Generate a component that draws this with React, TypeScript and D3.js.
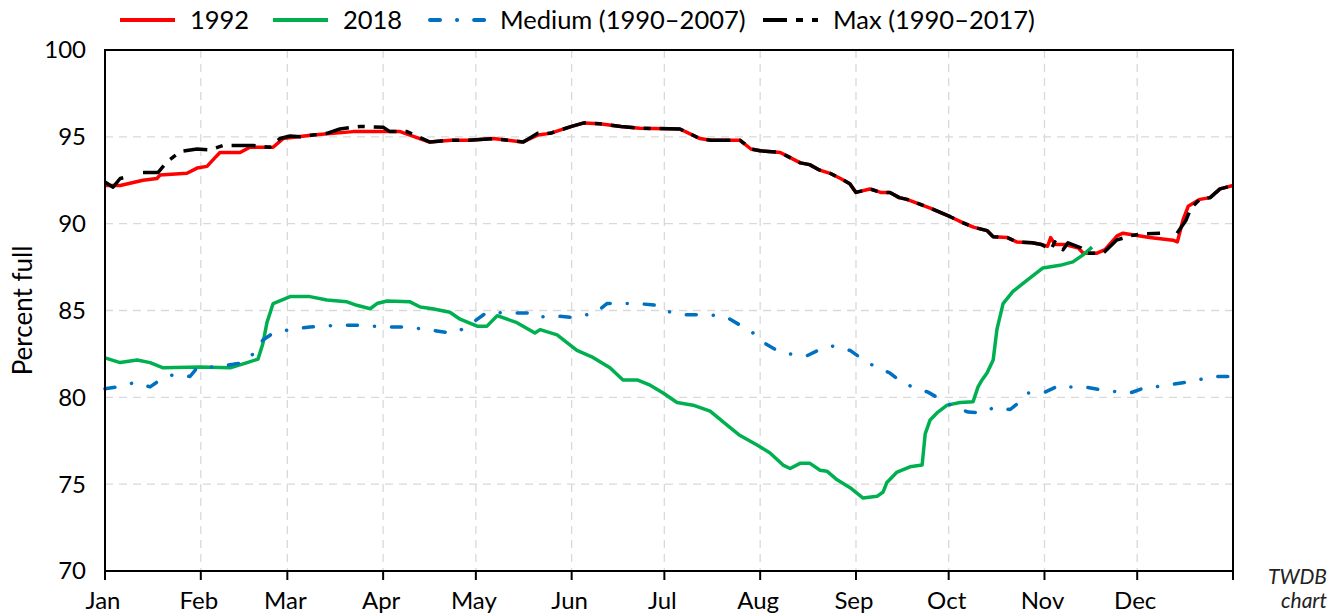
import React from 'react';
import * as d3 from 'd3';

// day of year -> percent full
const series1992: [number, number][] = [
  [0, 92.2], [4.9, 92.2], [12.3, 92.5], [16.8, 92.6], [17.8, 92.8], [26.5, 92.9], [29.8, 93.2],
  [33, 93.3], [35.6, 93.8], [37.2, 94.1], [43.7, 94.1], [46.9, 94.4], [54.4, 94.4], [57.6, 94.9],
  [67.3, 95.1], [80.3, 95.3], [95.5, 95.3], [105, 94.7], [112, 94.8], [118, 94.8], [125.6, 94.9],
  [135, 94.7], [140, 95.1], [144, 95.2], [151, 95.6], [155, 95.8], [160, 95.75], [167, 95.6],
  [173, 95.5], [186, 95.45], [189, 95.2], [192.5, 94.9], [196, 94.8], [205.5, 94.8], [209, 94.3],
  [212, 94.2], [218.5, 94.1], [221.7, 93.8], [225, 93.5], [228, 93.4], [231, 93.1], [234.6, 92.9],
  [238, 92.6], [241, 92.3], [243, 91.8], [247.5, 92.0], [251, 91.8], [254, 91.8], [257, 91.5],
  [259.5, 91.4], [267, 90.9], [273.5, 90.4], [277.7, 90.05], [281, 89.8], [285.4, 89.6],
  [287.4, 89.25], [292, 89.2], [295, 88.95], [300, 88.9], [303, 88.8], [305, 88.7], [306, 89.2],
  [307.4, 88.8], [310.7, 88.8], [315, 88.6], [316.5, 88.3], [321, 88.3], [323.6, 88.5],
  [327.5, 89.3], [329.4, 89.45], [338, 89.2], [345.6, 89.05], [347, 88.95], [348.8, 90.2],
  [350.5, 91.0], [354.3, 91.4], [357.6, 91.5], [360.8, 92.0], [365, 92.2],
];

const series2018: [number, number][] = [
  [0, 82.27], [4.9, 82.0], [10.4, 82.15], [14.6, 82.0], [18.8, 81.7], [30.7, 81.75], [40.5, 81.7],
  [46, 82.0], [49.5, 82.2], [51.1, 83.1], [52.4, 84.3], [54.4, 85.4], [59.9, 85.8], [66.3, 85.8],
  [71.8, 85.6], [78.3, 85.5], [81.5, 85.3], [85.8, 85.1], [88, 85.4], [91.3, 85.55], [98.7, 85.5],
  [102, 85.2], [106, 85.1], [111.6, 84.9], [114.9, 84.5], [120.4, 84.1], [123.6, 84.1],
  [126.9, 84.7], [133.3, 84.3], [139.1, 83.7], [140.8, 83.9], [146.3, 83.6], [152.7, 82.7],
  [157.9, 82.3], [163.4, 81.7], [167.6, 81.0], [172.2, 81.0], [176.4, 80.7], [180.6, 80.25],
  [185.1, 79.7], [190.3, 79.55], [195.8, 79.2], [201.3, 78.4], [205.5, 77.8], [211, 77.25],
  [215.2, 76.8], [219.4, 76.1], [221.7, 75.9], [224.9, 76.2], [228.1, 76.2], [231.4, 75.8],
  [233.6, 75.75], [236.9, 75.25], [241.1, 74.8], [245.3, 74.2], [249.8, 74.3], [251.8, 74.55],
  [253, 75.1], [256.3, 75.7], [260.5, 76.0], [264.4, 76.1], [265.4, 77.9], [267, 78.7],
  [269.2, 79.1], [272.5, 79.55], [276.7, 79.7], [280.9, 79.75], [282.5, 80.6], [283.8, 81.0],
  [285.4, 81.4], [287.4, 82.15], [288.6, 83.9], [290.6, 85.4], [293.8, 86.1], [298.4, 86.75],
  [303.5, 87.45], [309, 87.6], [313.2, 87.8], [316.5, 88.2], [319.4, 88.65],
];

const seriesMedium: [number, number][] = [
  [0, 80.5], [3.9, 80.6], [9.7, 80.85], [14.6, 80.6], [17.8, 81.0], [22, 81.3], [27.5, 81.2],
  [29.8, 81.7], [35, 81.75], [41.4, 81.9], [44.7, 82.0], [47.9, 82.5], [51.1, 83.3], [54.4, 83.7],
  [59.9, 83.9], [66.3, 84.05], [75.1, 84.15], [83.5, 84.15], [90, 84.05], [97.7, 84.05],
  [104.5, 83.9], [111.6, 83.7], [113.9, 83.75], [118.1, 84.2], [123.6, 84.9], [130.4, 84.85],
  [137.5, 84.85], [139.8, 84.6], [145, 84.7], [151.4, 84.6], [158.6, 84.85], [162.4, 85.4],
  [172.5, 85.4], [178.6, 85.3], [181.9, 84.95], [187, 84.75], [195.8, 84.75], [201.3, 84.6],
  [206.5, 84.05], [209.4, 83.75], [213.6, 83.1], [218.4, 82.6], [221.7, 82.5], [227.2, 82.4],
  [232.4, 82.85], [235.6, 82.95], [241.1, 82.7], [246.6, 82.0], [254, 81.4], [258.2, 80.8],
  [261.5, 80.6], [266.3, 80.3], [271.2, 79.8], [274.1, 79.5], [279.3, 79.15], [284.1, 79.1],
  [287.4, 79.4], [292.9, 79.3], [296.7, 79.85], [298.7, 80.25], [304.2, 80.3], [309, 80.7],
  [311.3, 80.6], [317.1, 80.6], [323, 80.4], [326.2, 80.35], [331.7, 80.25], [337.2, 80.6],
  [339.8, 80.6], [345.3, 80.75], [351.1, 80.9], [353.7, 81.0], [358.5, 81.2], [365, 81.2],
];

const seriesMax: [number, number | null][] = [
  [0, 92.4], [2.6, 92.1], [4.9, 92.6], [8.1, 92.75], [10, null], [12.3, 92.95], [17.2, 92.95],
  [20, 93.55], [24.3, 94.15], [29.8, 94.3], [34, 94.25], [38.2, 94.5], [47.9, 94.5], [53.4, 94.4],
  [56.6, 94.9], [59.9, 95.05], [63.1, 95.0], [67.3, 95.1], [71.8, 95.2], [76, 95.45], [82.5, 95.6],
  [90, 95.55], [92.2, 95.3], [97.7, 95.3], [105.2, 94.7], [110.7, 94.8], [117.1, 94.8],
  [125.6, 94.9], [135.4, 94.7], [140, 95.2], [144, 95.2], [151, 95.6], [155, 95.8], [160, 95.75],
  [167, 95.6], [173, 95.5], [186, 95.45], [189, 95.2], [192.5, 94.9], [196, 94.8], [205.5, 94.8],
  [209, 94.3], [212, 94.2], [218.5, 94.1], [221.7, 93.8], [225, 93.5], [228, 93.4], [231, 93.1],
  [234.6, 92.9], [238, 92.6], [241, 92.3], [243, 91.8], [247.5, 92.0], [251, 91.8], [254, 91.8],
  [257, 91.5], [259.5, 91.4], [267, 90.9], [273.5, 90.4], [277.7, 90.05], [281, 89.8],
  [285.4, 89.6], [287.4, 89.25], [292, 89.2], [295, 88.95], [300, 88.9], [303, 88.8], [306, 88.5],
  [307.4, 88.95], [310, 88.5], [311.6, 88.9], [315.8, 88.6], [317.4, 88.3], [323, 88.3],
  [327.3, 89.05], [331.7, 89.3], [334.9, 89.4], [341.4, 89.45], [343, null], [346.9, 89.45],
  [349.8, 90.2], [351.4, 90.9], [354.3, 91.4], [357.6, 91.5], [360.8, 92.0], [365, 92.2],
];

const monthStarts = [0, 31, 59, 90, 120, 151, 181, 212, 243, 273, 304, 334, 365];
const monthLabels = ['Jan', 'Feb', 'Mar', 'Apr', 'May', 'Jun', 'Jul', 'Aug', 'Sep', 'Oct', 'Nov', 'Dec'];
const yTicks = [70, 75, 80, 85, 90, 95, 100];

const legendItems = [
  { label: '1992', color: '#ff0000', dash: null, cap: 'butt', x: 120 },
  { label: '2018', color: '#00b050', dash: null, cap: 'butt', x: 273 },
  { label: 'Medium (1990–2007)', color: '#0070c0', dash: '10 17 0.1 17', cap: 'round', x: 430 },
  { label: 'Max (1990–2017)', color: '#000000', dash: '24 9 7 9', cap: 'butt', x: 763 },
];

const FONT = 'Lato, "Open Sans", sans-serif';

export default function App() {
  const W = 1343, H = 613;
  const left = 105, right = 1233, top = 50, bottom = 571;

  const x = d3.scaleLinear().domain([0, 365]).range([left, right]);
  const y = d3.scaleLinear().domain([70, 100]).range([bottom, top]);

  const line = d3.line<[number, number | null]>()
    .defined(d => d[1] !== null)
    .x(d => x(d[0]))
    .y(d => y(d[1] as number));

  return (
    <svg width={W} height={H} style={{ position: 'absolute', left: 0, top: 0 }} fontFamily={FONT}>
      <rect width={W} height={H} fill="#fff" />

      {/* grid */}
      {yTicks.filter(t => t > 70 && t < 100).map(t => (
        <line key={'gy' + t} x1={left} x2={right} y1={y(t)} y2={y(t)} stroke="#d9d9d9" strokeWidth={1.3} strokeDasharray="8 6" />
      ))}
      {monthStarts.slice(1, -1).map(m => (
        <line key={'gx' + m} x1={x(m)} x2={x(m)} y1={top} y2={bottom} stroke="#d9d9d9" strokeWidth={1.3} strokeDasharray="8 6" />
      ))}

      {/* series */}
      <path d={line(series1992) || ''} fill="none" stroke="#ff0000" strokeWidth={3.5} strokeLinejoin="round" />
      <path d={line(series2018) || ''} fill="none" stroke="#00b050" strokeWidth={3.5} strokeLinejoin="round" />
      <path d={line(seriesMedium) || ''} fill="none" stroke="#0070c0" strokeWidth={3.5} strokeDasharray="10 17 0.1 17" strokeLinecap="round" strokeLinejoin="round" />
      <path d={line(seriesMax) || ''} fill="none" stroke="#000" strokeWidth={3.5} strokeDasharray="24 9 7 9" strokeLinejoin="round" />

      {/* frame */}
      <rect x={left} y={top} width={right - left} height={bottom - top} fill="none" stroke="#000" strokeWidth={2} />
      {monthStarts.map(m => (
        <line key={'t' + m} x1={x(m)} x2={x(m)} y1={bottom} y2={bottom + 9} stroke="#000" strokeWidth={2} />
      ))}

      {/* axis labels */}
      {monthLabels.map((lab, i) => (
        <text key={lab} x={x(monthStarts[i]) - 2} y={609} textAnchor="middle" fontSize={24} fill="#000">{lab}</text>
      ))}
      {yTicks.map(t => (
        <text key={'yl' + t} x={86} y={y(t)} dy="0.35em" textAnchor="end" fontSize={24} fill="#000">{t}</text>
      ))}
      <text transform={`translate(32,${(top + bottom) / 2}) rotate(-90)`} textAnchor="middle" fontSize={26} fill="#000">Percent full</text>

      {/* legend */}
      {legendItems.map(it => (
        <g key={it.label}>
          <line x1={it.x} x2={it.x + 55} y1={20} y2={20} stroke={it.color} strokeWidth={4}
            strokeDasharray={it.dash || undefined} strokeLinecap={it.cap as any} />
          <text x={it.x + 70} y={20} dy="0.35em" fontSize={25.5} fill="#000">{it.label}</text>
        </g>
      ))}

      <text x={1327} y={584} textAnchor="end" fontSize={21} fontStyle="italic" fill="#222">TWDB</text>
      <text x={1327} y={608} textAnchor="end" fontSize={21} fontStyle="italic" fill="#222">chart</text>
    </svg>
  );
}
